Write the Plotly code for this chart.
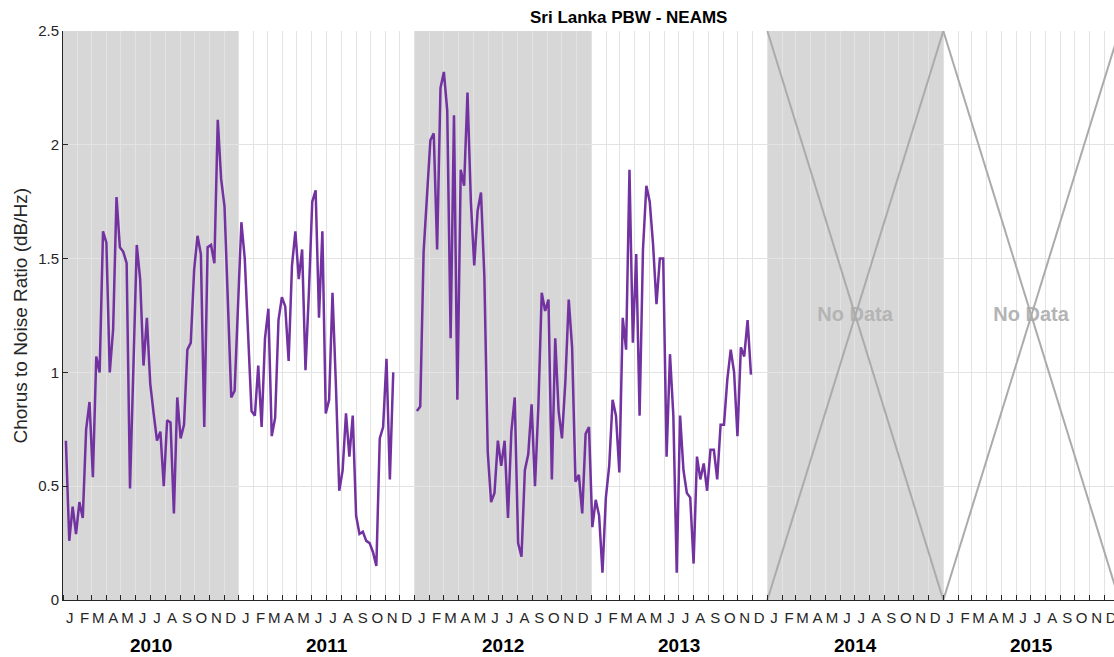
import pandas as pd
import plotly.graph_objects as go

# ---------------- data (weekly Chorus-to-Noise ratio, dB/Hz) ----------------
years = [2010, 2011, 2012, 2013, 2014, 2015]
shaded_years = [2010, 2012, 2014]
no_data_years = [2014, 2015]
month_letters = ["J", "F", "M", "A", "M", "J", "J", "A", "S", "O", "N", "D"]

seg1_start = "2010-01-07"   # first weekly sample of 2010-2011 record
seg2_start = "2012-01-05"   # first weekly sample of 2012-2013 record

cnr_2010 = [0.70, 0.26, 0.41, 0.29, 0.43, 0.36, 0.75, 0.87, 0.54, 1.07, 1.00, 1.62, 1.57,
            1.00, 1.19, 1.77, 1.55, 1.53, 1.48, 0.49, 1.02, 1.56, 1.41, 1.03, 1.24, 0.95,
            0.82, 0.70, 0.74, 0.50, 0.79, 0.78, 0.38, 0.89, 0.71, 0.77, 1.10, 1.13, 1.45,
            1.60, 1.52, 0.76, 1.55, 1.56, 1.48, 2.11, 1.85, 1.73, 1.31, 0.89, 0.92, 1.29]
cnr_2011 = [1.66, 1.50, 1.15, 0.83, 0.81, 1.03, 0.76, 1.15, 1.28, 0.72, 0.80, 1.23, 1.33,
            1.29, 1.05, 1.47, 1.62, 1.41, 1.54, 1.01, 1.35, 1.75, 1.80, 1.24, 1.62, 0.82,
            0.88, 1.35, 0.95, 0.48, 0.57, 0.82, 0.63, 0.81, 0.37, 0.29, 0.30, 0.26, 0.25,
            0.21, 0.15, 0.71, 0.76, 1.06, 0.53, 1.00]
cnr_2012 = [0.83, 0.85, 1.53, 1.77, 2.02, 2.05, 1.54, 2.25, 2.32, 2.15, 1.15, 2.13, 0.88,
            1.89, 1.82, 2.23, 1.75, 1.47, 1.71, 1.79, 1.42, 0.65, 0.43, 0.47, 0.70, 0.59,
            0.70, 0.36, 0.74, 0.89, 0.25, 0.19, 0.57, 0.64, 0.86, 0.50, 0.85, 1.35, 1.27,
            1.32, 0.53, 1.15, 0.83, 0.71, 0.96, 1.32, 1.11, 0.52, 0.55, 0.38, 0.73, 0.76]
cnr_2013 = [0.32, 0.44, 0.37, 0.12, 0.45, 0.59, 0.88, 0.81, 0.56, 1.24, 1.10, 1.89, 1.13,
            1.52, 0.81, 1.54, 1.82, 1.75, 1.56, 1.30, 1.50, 1.50, 0.63, 1.08, 0.81, 0.12,
            0.81, 0.57, 0.47, 0.45, 0.16, 0.63, 0.53, 0.60, 0.48, 0.66, 0.66, 0.53, 0.77,
            0.77, 0.97, 1.10, 1.00, 0.72, 1.11, 1.07, 1.23, 0.99]

y_min, y_max = 0, 2.5
y_ticks = [0, 0.5, 1, 1.5, 2, 2.5]
y_ticktext = ["0", "0.5", "1", "1.5", "2", "2.5"]

# ---------------- build series ----------------
seg1_vals = cnr_2010 + cnr_2011
seg2_vals = cnr_2012 + cnr_2013
seg1_x = pd.date_range(seg1_start, periods=len(seg1_vals), freq="7D").strftime("%Y-%m-%d").tolist()
seg2_x = pd.date_range(seg2_start, periods=len(seg2_vals), freq="7D").strftime("%Y-%m-%d").tolist()
line_x = seg1_x + [None] + seg2_x
line_y = seg1_vals + [None] + seg2_vals

FONT = "Liberation Sans, Arial, Helvetica, sans-serif"
DARK = "#262626"
GRID = "#e3e3e3"
SHADE = "#d7d7d7"
XCOL = "#ababab"

fig = go.Figure()

# "No Data" labels (under the cross lines)
fig.add_trace(go.Scatter(
    x=[f"{yr}-07-02" for yr in no_data_years], y=[1.25] * len(no_data_years),
    mode="text", text=["No Data"] * len(no_data_years),
    textfont=dict(family=FONT, size=20, color="#b4b4b4", weight="bold"),
    textposition="middle center", hoverinfo="skip", showlegend=False))

# cross lines for the no-data years
for yr in no_data_years:
    fig.add_trace(go.Scatter(x=[f"{yr}-01-01", f"{yr+1}-01-01"], y=[y_min, y_max],
                             mode="lines", line=dict(color=XCOL, width=2),
                             hoverinfo="skip", showlegend=False))
    fig.add_trace(go.Scatter(x=[f"{yr}-01-01", f"{yr+1}-01-01"], y=[y_max, y_min],
                             mode="lines", line=dict(color=XCOL, width=2),
                             hoverinfo="skip", showlegend=False))

# data line
fig.add_trace(go.Scatter(x=line_x, y=line_y, mode="lines",
                         line=dict(color="#7232a0", width=2.5),
                         connectgaps=False, showlegend=False))

# shaded years
for yr in shaded_years:
    fig.add_shape(type="rect", xref="x", yref="paper",
                  x0=f"{yr}-01-01", x1=f"{yr+1}-01-01", y0=0, y1=1,
                  fillcolor=SHADE, line=dict(width=0), layer="below")

# month tick labels near mid-month
tickvals, ticktext = [], []
for yr in years:
    for m, letter in enumerate(month_letters, start=1):
        tickvals.append(f"{yr}-{m:02d}-15")
        ticktext.append(letter)

# year labels
for yr in years:
    fig.add_annotation(x=f"{yr}-07-02", xref="x", y=0, yref="paper", yshift=-45,
                       text=f"<b>{yr}</b>", showarrow=False, yanchor="middle",
                       font=dict(family=FONT, size=19, color="black"))

# y-axis title
fig.add_annotation(x=0, xref="paper", xshift=-43, y=0.5, yref="paper",
                   text="Chorus to Noise Ratio (dB/Hz)", textangle=-90, showarrow=False,
                   xanchor="center", yanchor="middle",
                   font=dict(family=FONT, size=19, color=DARK))

# title
fig.add_annotation(x=0.5376, xref="paper", y=1, yref="paper", yshift=14,
                   text="<b>Sri Lanka PBW - NEAMS</b>", showarrow=False,
                   xanchor="center", yanchor="middle",
                   font=dict(family=FONT, size=17, color="black"))

fig.update_layout(
    width=1114, height=657,
    margin=dict(l=63, r=0, t=31, b=57),
    paper_bgcolor="white", plot_bgcolor="white",
    showlegend=False,
    xaxis=dict(
        type="date", range=["2010-01-01", "2015-12-21"],
        tickmode="array", tickvals=tickvals, ticktext=ticktext,
        ticks="", showgrid=False, zeroline=False,
        tickfont=dict(family=FONT, size=15, color=DARK),
        ticklabelstandoff=4, ticklabeloverflow="allow",
        showline=True, linecolor=DARK, linewidth=1,
        automargin=False,
        minor=dict(dtick="M1", tick0="2010-01-01", ticks="inside", ticklen=5,
                   tickcolor=DARK, tickwidth=1, showgrid=True, gridcolor=GRID, gridwidth=1),
    ),
    yaxis=dict(
        range=[y_min, y_max], tickmode="array", tickvals=y_ticks, ticktext=y_ticktext,
        ticks="inside", ticklen=5, tickcolor=DARK,
        showgrid=True, gridcolor=GRID, gridwidth=1, zeroline=False,
        showline=True, linecolor=DARK, linewidth=1,
        tickfont=dict(family=FONT, size=15, color=DARK),
        automargin=False,
    ),
)

fig.write_html("out.html", config={"displayModeBar": False},
               post_script="document.body.style.margin='0';document.body.style.padding='0';")
